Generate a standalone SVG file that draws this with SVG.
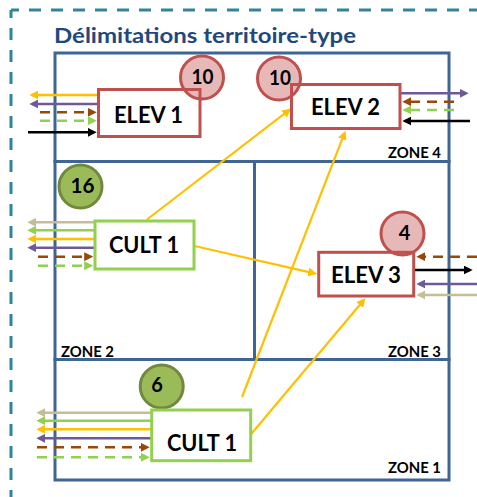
<svg xmlns="http://www.w3.org/2000/svg" width="477" height="497" viewBox="0 0 477 497">
<style>
.zone{fill:none;stroke:#3F6595;stroke-width:3}
.zl{font-family:Lato,"Liberation Sans",sans-serif;font-weight:bold;font-size:16px;fill:#000}
.title{font-family:Lato,"Liberation Sans",sans-serif;font-weight:bold;font-size:20px;fill:#1F497D}
.nl{font-family:Lato,"Liberation Sans",sans-serif;font-weight:bold;font-size:22px;fill:#000;text-anchor:middle}
.num{font-family:Lato,"Liberation Sans",sans-serif;font-weight:bold;font-size:20px;fill:#000;text-anchor:middle}
.rf{fill:#fff;stroke:none}
.er{fill:none;stroke:#C0504D;stroke-width:3}
.cr{fill:none;stroke:#92D050;stroke-width:3}
.ec{fill:#E6B9B8;stroke:#C0504D;stroke-width:3}
.cc{fill:#9BBB59;stroke:#71893F;stroke-width:3}
.c{fill:none;stroke-width:2.5}
.d{stroke-dasharray:10 7}
.yel{stroke:#FFC000;marker-end:url(#a-yel)}
.pur{stroke:#6F5A98;marker-end:url(#a-pur)}
.brn{stroke:#984807;marker-end:url(#a-brn)}
.grn{stroke:#92D050;marker-end:url(#a-grn)}
.tan{stroke:#C4BD97;marker-end:url(#a-tan)}
.blk{stroke:#000;marker-end:url(#a-blk)}
.link{fill:none;stroke:#FFC000;stroke-width:2.2;marker-end:url(#a-yel)}
</style>
<defs>
<marker id="a-yel" viewBox="0 0 10 10" refX="7" refY="5" markerWidth="9" markerHeight="9" markerUnits="userSpaceOnUse" orient="auto"><path d="M0,0 L10,5 L0,10 z" fill="#FFC000"/></marker>
<marker id="a-pur" viewBox="0 0 10 10" refX="7" refY="5" markerWidth="9" markerHeight="9" markerUnits="userSpaceOnUse" orient="auto"><path d="M0,0 L10,5 L0,10 z" fill="#6F5A98"/></marker>
<marker id="a-brn" viewBox="0 0 10 10" refX="7" refY="5" markerWidth="9" markerHeight="9" markerUnits="userSpaceOnUse" orient="auto"><path d="M0,0 L10,5 L0,10 z" fill="#984807"/></marker>
<marker id="a-grn" viewBox="0 0 10 10" refX="7" refY="5" markerWidth="9" markerHeight="9" markerUnits="userSpaceOnUse" orient="auto"><path d="M0,0 L10,5 L0,10 z" fill="#92D050"/></marker>
<marker id="a-tan" viewBox="0 0 10 10" refX="7" refY="5" markerWidth="9" markerHeight="9" markerUnits="userSpaceOnUse" orient="auto"><path d="M0,0 L10,5 L0,10 z" fill="#C4BD97"/></marker>
<marker id="a-blk" viewBox="0 0 10 10" refX="7" refY="5" markerWidth="9" markerHeight="9" markerUnits="userSpaceOnUse" orient="auto"><path d="M0,0 L10,5 L0,10 z" fill="#000"/></marker>
</defs>
<rect width="477" height="497" fill="#fff"/>
<g id="frame" fill="none" stroke="#31849B" stroke-width="3" stroke-dasharray="12 10" stroke-dashoffset="4">
<path d="M11,10 H477"/>
<path d="M11,10 V497"/>
</g>
<text class="title" x="54" y="43" textLength="302" lengthAdjust="spacingAndGlyphs">Délimitations territoire-type</text>
<g id="zones">
<rect class="zone" x="55" y="53" width="394" height="108.5"/>
<rect class="zone" x="55" y="161.5" width="199.5" height="198"/>
<rect class="zone" x="254.5" y="161.5" width="194.5" height="198"/>
<rect class="zone" x="55" y="359.5" width="394" height="120.5"/>
<text class="zl" x="388" y="158" textLength="53" lengthAdjust="spacingAndGlyphs">ZONE 4</text>
<text class="zl" x="61" y="357" textLength="53" lengthAdjust="spacingAndGlyphs">ZONE 2</text>
<text class="zl" x="388" y="357" textLength="53" lengthAdjust="spacingAndGlyphs">ZONE 3</text>
<text class="zl" x="388" y="473" textLength="53" lengthAdjust="spacingAndGlyphs">ZONE 1</text>
</g>
<g id="connectors">
<!-- ELEV 1 -->
<line class="c yel" x1="98.5" y1="95" x2="32" y2="95"/>
<line class="c pur" x1="98.5" y1="104" x2="32" y2="104"/>
<line class="c d brn" x1="40" y1="112.3" x2="94" y2="112.3"/>
<line class="c d grn" x1="40" y1="120.7" x2="94" y2="120.7"/>
<line class="c blk" x1="28" y1="132.3" x2="94" y2="132.3"/>
<!-- ELEV 2 -->
<line class="c pur" x1="400" y1="93.3" x2="466" y2="93.3"/>
<line class="c d brn" x1="454" y1="101.7" x2="405" y2="101.7"/>
<line class="c d grn" x1="454" y1="110" x2="405" y2="110"/>
<line class="c blk" x1="470" y1="121" x2="405" y2="121"/>
<!-- CULT 1 zone 2 -->
<line class="c tan" x1="95" y1="222.3" x2="30" y2="222.3"/>
<line class="c grn" x1="95" y1="230.3" x2="30" y2="230.3"/>
<line class="c yel" x1="95" y1="239" x2="30" y2="239"/>
<line class="c pur" x1="95" y1="247.7" x2="30" y2="247.7"/>
<line class="c d brn" x1="38" y1="256.7" x2="90.5" y2="256.7"/>
<line class="c d grn" x1="38" y1="265.7" x2="90.5" y2="265.7"/>
<!-- ELEV 3 -->
<line class="c d brn" x1="477" y1="256.7" x2="419" y2="256.7"/>
<line class="c blk" x1="413.7" y1="270" x2="470" y2="270"/>
<line class="c pur" x1="477" y1="284" x2="419" y2="284"/>
<line class="c tan" x1="477" y1="295" x2="419" y2="295"/>
<!-- CULT 1 zone 1 -->
<line class="c tan" x1="151.7" y1="412.7" x2="39" y2="412.7"/>
<line class="c grn" x1="151.7" y1="420.7" x2="39" y2="420.7"/>
<line class="c yel" x1="151.7" y1="429.3" x2="39" y2="429.3"/>
<line class="c pur" x1="151.7" y1="438.3" x2="39" y2="438.3"/>
<line class="c d brn" x1="37" y1="447.3" x2="147" y2="447.3"/>
<line class="c d grn" x1="37" y1="457.3" x2="147" y2="457.3"/>
<!-- flows between nodes -->
<line class="link" x1="147" y1="219.5" x2="289" y2="110.2"/>
<line class="link" x1="194.5" y1="246" x2="314.5" y2="273.4"/>
<line class="link" x1="242" y1="397" x2="344.5" y2="133.2"/>
<line class="link" x1="251" y1="434.3" x2="363.7" y2="300.2"/>
</g>
<g id="elev1">
<rect class="rf" x="98.5" y="89.5" width="101.5" height="47"/>
<circle class="ec" cx="202" cy="77.5" r="21.5"/>
<rect class="er" x="98.5" y="89.5" width="101.5" height="47"/>
<text class="nl" x="148.5" y="123" textLength="69" lengthAdjust="spacingAndGlyphs">ELEV 1</text>
<text class="num" x="202.5" y="84" textLength="22" lengthAdjust="spacingAndGlyphs">10</text>
</g>
<g id="elev2">
<rect class="rf" x="291.5" y="84.5" width="108.5" height="44"/>
<circle class="ec" cx="279" cy="78.5" r="21.5"/>
<rect class="er" x="291.5" y="84.5" width="108.5" height="44"/>
<text class="nl" x="345.5" y="115" textLength="69" lengthAdjust="spacingAndGlyphs">ELEV 2</text>
<text class="num" x="280" y="84.5" textLength="22" lengthAdjust="spacingAndGlyphs">10</text>
</g>
<g id="cult1-zone2">
<rect class="rf" x="95" y="221" width="99" height="48"/>
<circle class="cc" cx="80.5" cy="186.5" r="21.5"/>
<rect class="cr" x="95" y="221" width="99" height="48"/>
<text class="nl" x="144" y="253" textLength="70" lengthAdjust="spacingAndGlyphs">CULT 1</text>
<text class="num" x="82.5" y="192.5" textLength="24" lengthAdjust="spacingAndGlyphs">16</text>
</g>
<g id="elev3">
<rect class="rf" x="318.7" y="252.3" width="95" height="43.7"/>
<circle class="ec" cx="402.5" cy="233.5" r="21.5"/>
<rect class="er" x="318.7" y="252.3" width="95" height="43.7"/>
<text class="nl" x="366" y="283" textLength="70" lengthAdjust="spacingAndGlyphs">ELEV 3</text>
<text class="num" x="404.5" y="239.5">4</text>
</g>
<g id="cult1-zone1">
<rect class="rf" x="151.7" y="410" width="99" height="50.7"/>
<circle class="cc" cx="161.7" cy="386.5" r="21.5"/>
<rect class="cr" x="151.7" y="410" width="99" height="50.7"/>
<text class="nl" x="202" y="451" textLength="70" lengthAdjust="spacingAndGlyphs">CULT 1</text>
<text class="num" x="157" y="392">6</text>
</g>
</svg>
